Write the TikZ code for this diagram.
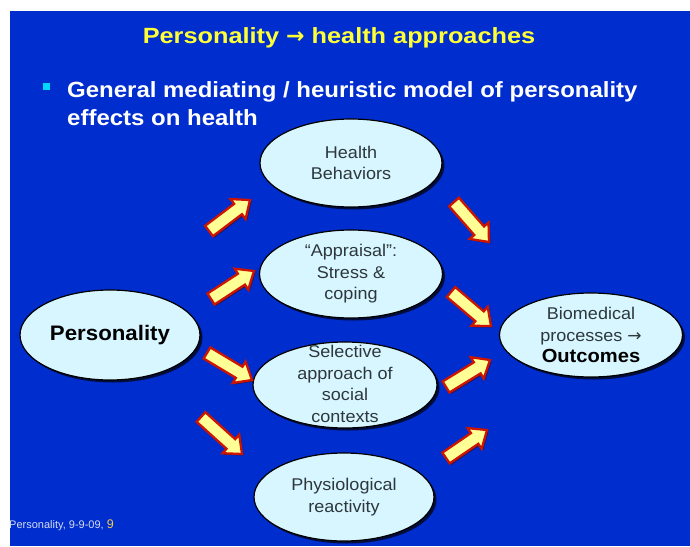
\documentclass[tikz,border=0pt]{standalone}
\usepackage{fontspec}
\setmainfont{Liberation Sans}
\newfontfamily\titlefont[FakeStretch=1.15]{Liberation Sans}
\newfontfamily\subfont[FakeStretch=1.09]{Liberation Sans}
\newfontfamily\ellfont[FakeStretch=1.06]{Liberation Sans}
\newfontfamily\arrowfont{DejaVu Sans}
\usetikzlibrary{calc,shapes.geometric,shadows}
\definecolor{bg}{RGB}{0,45,205}
\definecolor{ttl}{RGB}{255,255,55}
\definecolor{ellfill}{RGB}{215,246,255}
\definecolor{elltext}{RGB}{45,55,60}
\definecolor{arrfill}{RGB}{255,255,150}
\definecolor{arrline}{RGB}{205,20,0}
\definecolor{bul}{RGB}{0,215,255}
\definecolor{foot}{RGB}{215,220,240}
\definecolor{footnum}{RGB}{235,205,80}
\newcommand\blockarrow[2]{%
  \coordinate (hb) at ($(#2)!15pt!(#1)$);
  \draw[barrow] ($(#1)!6.5pt!90:(#2)$) -- ($(hb)!6.5pt!-90:(#1)$) -- ($(hb)!12.5pt!-90:(#1)$) -- (#2)
    -- ($(hb)!12.5pt!90:(#1)$) -- ($(hb)!6.5pt!90:(#1)$) -- ($(#1)!6.5pt!-90:(#2)$) -- cycle;}
\begin{document}
\begin{tikzpicture}[x=1pt,y=-1pt,
  ell/.style={ellipse, draw=black, line width=1.2pt, fill=ellfill, inner sep=0pt,
    drop shadow={shadow xshift=2.5pt, shadow yshift=-2.5pt, fill=black, opacity=0.7}},
  etext/.style={align=center, text=elltext, inner sep=0pt, font=\ellfont\fontsize{17}{21.5}\selectfont},
  barrow/.style={draw=arrline, line width=2.3pt, fill=arrfill, line join=miter,
    drop shadow={shadow xshift=1.5pt, shadow yshift=-1.5pt, fill=black!70!red, opacity=0.6}}]
\useasboundingbox (0,0) rectangle (690,546);
\fill[bg] (10,11) rectangle (690,546);
% title and bullet
\node[anchor=base, inner sep=0pt, text=ttl, font=\titlefont\fontsize{22}{26}\selectfont\bfseries] (title) at (339,43)
  {Personality {\arrowfont\bfseries →} health approaches};
\node[fill=bul, minimum size=7pt, inner sep=0pt] (bullet) at (46.5,86.5) {};
\node[anchor=north west, inner sep=0pt, text=white, align=left, font=\subfont\fontsize{22}{28}\selectfont\bfseries] (sub) at (67,81)
  {General mediating / heuristic model of personality\\effects on health};
% ellipses
\node[ell, minimum width=182pt, minimum height=88pt] (hb1) at (351,163) {};
\node[etext] (hbt) at (hb1) {Health\\Behaviors};
\node[ell, minimum width=183pt, minimum height=88pt] (app) at (351,274) {};
\node[etext] (appt) at (app) {“Appraisal”:\\Stress \&\\coping};
\node[ell, minimum width=184pt, minimum height=86pt] (sel) at (345,385) {};
\node[etext] (selt) at (345,384) {Selective\\approach of\\social\\contexts};
\node[ell, minimum width=180pt, minimum height=88pt] (phy) at (344,497) {};
\node[etext] (phyt) at (phy) {Physiological\\reactivity};
\node[ell, minimum width=180pt, minimum height=90pt] (pers) at (110,335) {};
\node[text=black, inner sep=0pt, font=\ellfont\fontsize{21}{25}\selectfont\bfseries] (perst) at (pers) {Personality};
\node[ell, minimum width=183pt, minimum height=84pt] (bio) at (591,335) {};
\node[etext] (biot) at (bio) {Biomedical\\processes {\arrowfont →}\\\textcolor{black}{\fontsize{19}{21.5}\selectfont\bfseries Outcomes}};
% block arrows
\coordinate (a1t) at (209,231); \coordinate (a1h) at (250,200);
\coordinate (a2t) at (211,299); \coordinate (a2h) at (254,271);
\coordinate (a3t) at (207,353); \coordinate (a3h) at (252,380);
\coordinate (a4t) at (201,417); \coordinate (a4h) at (242,454);
\coordinate (a5t) at (454,202); \coordinate (a5h) at (489,242);
\coordinate (a6t) at (451,292); \coordinate (a6h) at (491,326);
\coordinate (a7t) at (446,387); \coordinate (a7h) at (490,360);
\coordinate (a8t) at (446,458); \coordinate (a8h) at (487,430);
\blockarrow{a1t}{a1h}
\blockarrow{a2t}{a2h}
\blockarrow{a3t}{a3h}
\blockarrow{a4t}{a4h}
\blockarrow{a5t}{a5h}
\blockarrow{a6t}{a6h}
\blockarrow{a7t}{a7h}
\blockarrow{a8t}{a8h}
% footer
\node[anchor=base west, inner sep=0pt, text=foot, font=\fontsize{11}{12}\selectfont] (foot) at (9,528)
  {Personality, 9-9-09, \textcolor{footnum}{\fontsize{12.5}{12}\selectfont 9}};
\end{tikzpicture}
\end{document}
